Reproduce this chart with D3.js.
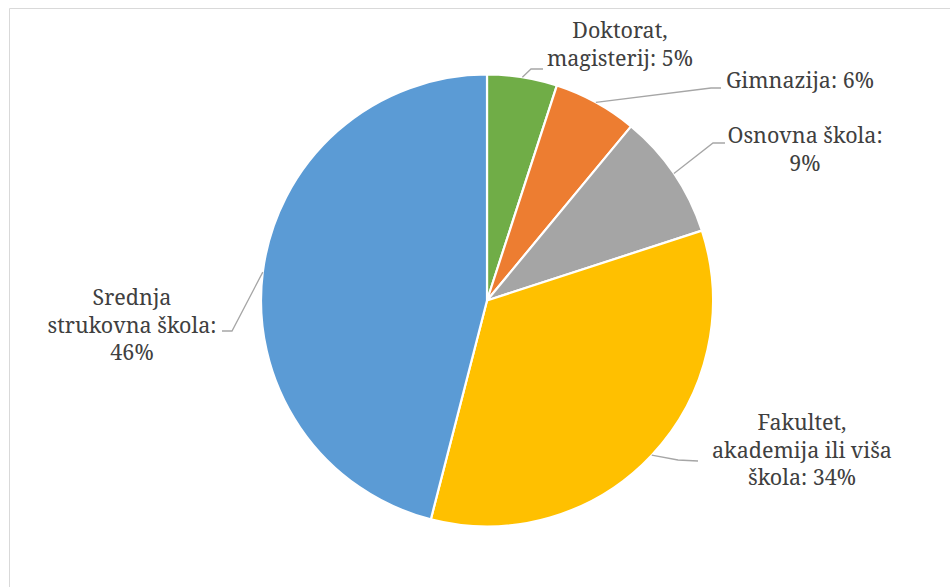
<!DOCTYPE html>
<html>
<head>
<meta charset="utf-8">
<script src="https://cdn.jsdelivr.net/npm/d3@7/dist/d3.min.js"></script>
<style>
  html, body { margin: 0; padding: 0; background: #fff; }
  svg { display: block; }
</style>
</head>
<body>
<svg id="chart" width="950" height="587"></svg>
<script>
// Obrazovanje ispitanika (udio u %)
const categories = [
  "Doktorat, magisterij",
  "Gimnazija",
  "Osnovna škola",
  "Fakultet, akademija ili viša škola",
  "Srednja strukovna škola"
];
const values = [5, 6, 9, 34, 46];
const colors = ["#70AD47", "#ED7D31", "#A5A5A5", "#FFC000", "#5B9BD5"];

// Label text split into lines, in the same order as categories
const labelLines = [
  ["Doktorat,", "magisterij: 5%"],
  ["Gimnazija: 6%"],
  ["Osnovna škola:", "9%"],
  ["Fakultet,", "akademija ili viša", "škola: 34%"],
  ["Srednja", "strukovna škola:", "46%"]
];

// Layout: label block centre (x, first baseline y) and leader elbow/end points
const layout = {
  cx: 487, cy: 300.5, r: 226,
  fontSize: 21.5, lineHeight: 27.5,
  labels: [
    { x: 620, y: 38,  elbow: [531, 69],  end: [543, 69] },
    { x: 800, y: 88,  elbow: [711, 88],  end: [721, 88] },
    { x: 805, y: 143, elbow: [713, 143], end: [725, 143] },
    { x: 802, y: 430, elbow: [678, 460], end: [698, 461] },
    { x: 132, y: 305, elbow: [232, 331], end: [222, 331] }
  ]
};

const svg = d3.select("#chart");

// Chart area border
svg.append("path")
  .attr("d", "M9.5,587 V8.5 H950")
  .attr("fill", "none")
  .attr("stroke", "#d9d9d9")
  .attr("stroke-width", 1);

const pie = d3.pie().sort(null).value(d => d);
const arcs = pie(values);
const arc = d3.arc().innerRadius(0).outerRadius(layout.r);

const g = svg.append("g").attr("transform", `translate(${layout.cx},${layout.cy})`);

g.selectAll("path.slice")
  .data(arcs)
  .join("path")
  .attr("class", "slice")
  .attr("d", arc)
  .attr("fill", (d, i) => colors[i])
  .attr("stroke", "#fff")
  .attr("stroke-width", 2.2)
  .attr("stroke-linejoin", "round");

// Leader lines from slice edge at mid-angle
const leaders = svg.append("g");
arcs.forEach((a, i) => {
  const mid = (a.startAngle + a.endAngle) / 2;
  const sx = layout.cx + layout.r * Math.sin(mid);
  const sy = layout.cy - layout.r * Math.cos(mid);
  const L = layout.labels[i];
  leaders.append("polyline")
    .attr("points", [[sx, sy], L.elbow, L.end].map(p => p.join(",")).join(" "))
    .attr("fill", "none")
    .attr("stroke", "#a6a6a6")
    .attr("stroke-width", 1.3);
});

// Data labels
const labels = svg.append("g");
labelLines.forEach((lines, i) => {
  const L = layout.labels[i];
  const t = labels.append("text")
    .attr("text-anchor", "middle")
    .attr("font-family", "'Noto Serif'")
    .attr("fill", "#404040")
    .attr("font-size", layout.fontSize);
  lines.forEach((ln, j) => {
    t.append("tspan")
      .attr("x", L.x)
      .attr("y", L.y + j * layout.lineHeight)
      .text(ln);
  });
});
</script>
</body>
</html>
